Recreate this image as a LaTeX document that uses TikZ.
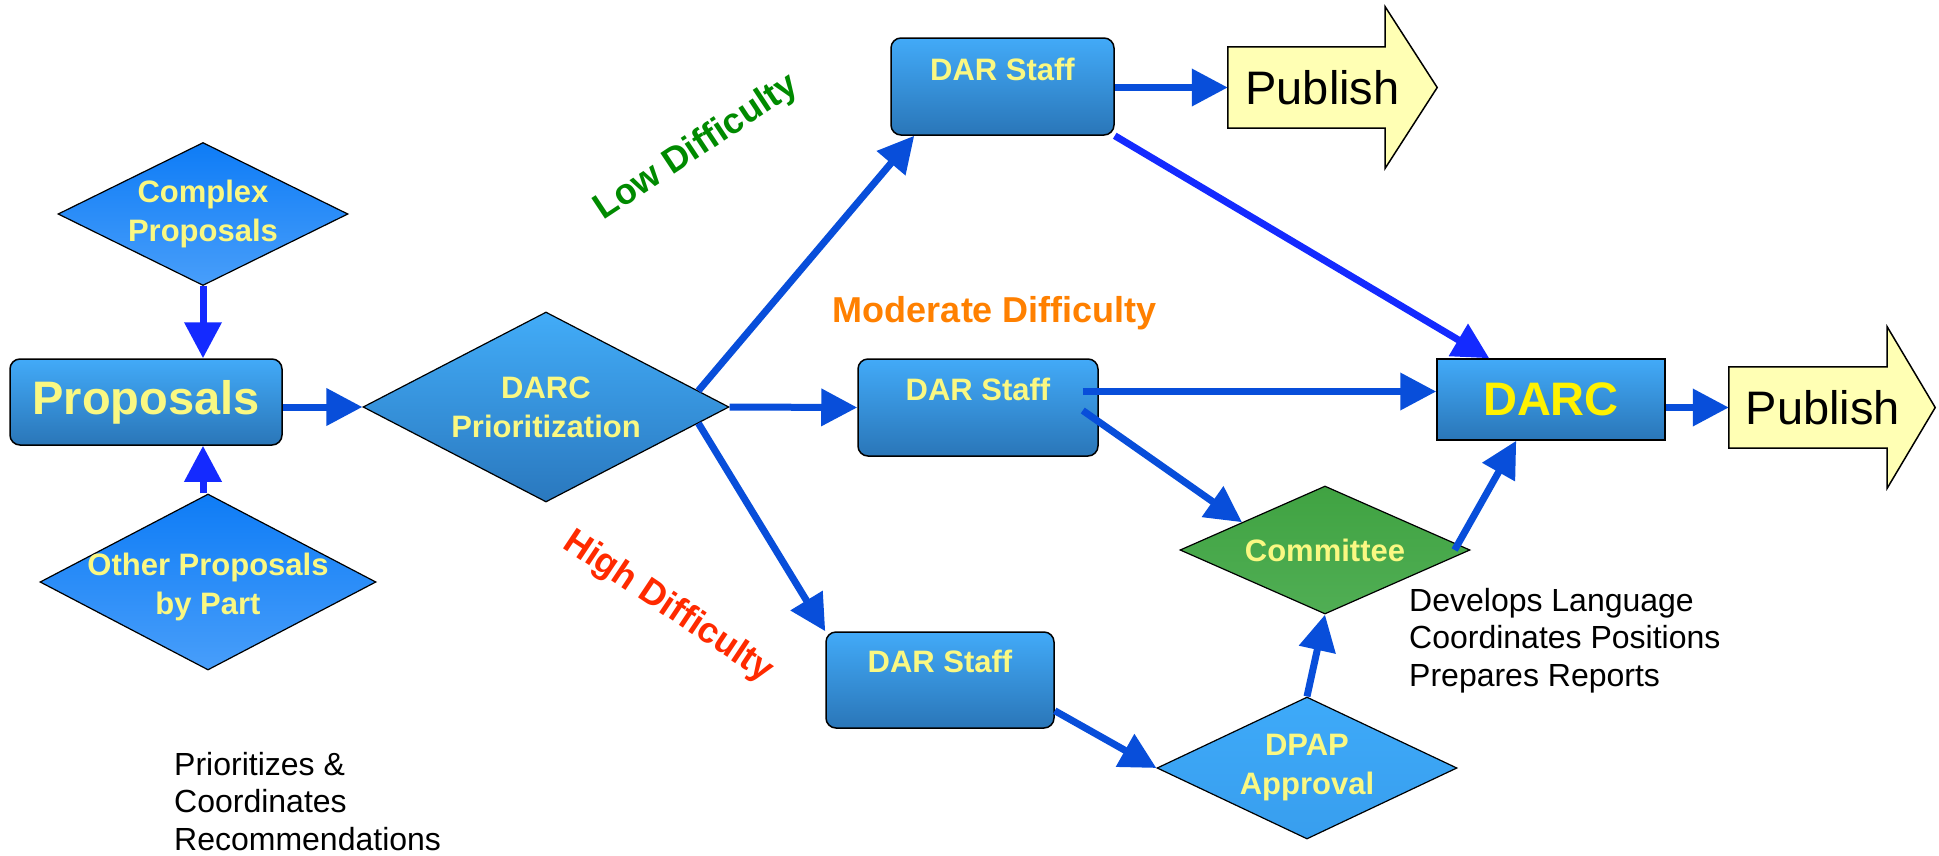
\documentclass[tikz,border=0pt]{standalone}
\usepackage{fontspec}
\setmainfont{Liberation Sans}
\usetikzlibrary{shapes.geometric,arrows.meta,calc}
\definecolor{boxtop}{RGB}{66,170,248}
\definecolor{boxbot}{RGB}{42,118,184}
\definecolor{dtop}{RGB}{14,124,246}
\definecolor{dbot}{RGB}{72,158,250}
\definecolor{ptop}{RGB}{66,172,248}
\definecolor{pbot}{RGB}{42,120,190}
\definecolor{aptop}{RGB}{62,170,249}
\definecolor{apbot}{RGB}{56,158,238}
\definecolor{ctop}{RGB}{64,163,66}
\definecolor{cbot}{RGB}{80,174,84}
\definecolor{ytext}{RGB}{250,248,130}
\definecolor{arrblue}{RGB}{8,78,218}
\definecolor{brblue}{RGB}{20,42,255}
\definecolor{pubfill}{RGB}{255,255,180}
\definecolor{lowgreen}{RGB}{0,138,0}
\definecolor{modorange}{RGB}{255,128,0}
\definecolor{highred}{RGB}{255,42,0}
\begin{document}
\begin{tikzpicture}[x=1pt,y=-1pt,
  stbox/.style={draw=black,line width=1.5pt,rounded corners=10pt,top color=boxtop,bottom color=boxbot,inner sep=0pt},
  sqbox/.style={draw=black,line width=1.5pt,top color=boxtop,bottom color=boxbot,inner sep=0pt},
  diam/.style={diamond,draw=black,line width=1.2pt,inner sep=0pt},
  dtext/.style={text=ytext,font=\bfseries\fontsize{31}{39}\selectfont,align=center},
  sttext/.style={text=ytext,font=\bfseries\fontsize{31}{37}\selectfont},
  arr/.style={draw=arrblue,line width=7pt,-{Triangle[length=36pt,width=36pt]}},
  barr/.style={draw=brblue,line width=7pt,-{Triangle[length=36pt,width=36pt]}},
  pubshape/.style={draw=black,line width=1.5pt,fill=pubfill,line join=miter},
  pubtext/.style={font=\fontsize{47}{50}\selectfont,text=black},
  note/.style={font=\fontsize{32}{37.5}\selectfont,align=left,text=black,anchor=north west,inner sep=0pt},
  difflabel/.style={font=\bfseries\fontsize{36}{40}\selectfont}
]
\useasboundingbox (0,0) rectangle (1939,855);

% left column
\node[diam,top color=dtop,bottom color=dbot,minimum width=290pt,minimum height=143pt,
      label={[dtext]center:Complex\\Proposals}] (cp) at (203,214) {};
\node[stbox,minimum width=272pt,minimum height=86pt,
      label={[text=ytext,font=\bfseries\fontsize{47}{50}\selectfont]center:Proposals}] (prop) at (146,402) {};
\node[diam,top color=dtop,bottom color=dbot,minimum width=336pt,minimum height=176pt,
      label={[dtext,yshift=-5pt]center:Other Proposals\\by Part}] (op) at (208,582) {};

% DARC prioritization
\node[diam,top color=ptop,bottom color=pbot,minimum width=366pt,minimum height=190pt,
      label={[dtext]center:DARC\\Prioritization}] (prio) at (546,407) {};

% DAR staff boxes
\node[stbox,minimum width=223pt,minimum height=97pt,
      label={[sttext,anchor=center,yshift=-32pt]north:DAR Staff}] (low) at (1002.5,86.5) {};
\node[stbox,minimum width=240pt,minimum height=97pt,
      label={[sttext,anchor=center,yshift=-31pt]north:DAR Staff}] (mod) at (978,407.5) {};
\node[stbox,minimum width=228pt,minimum height=96pt,
      label={[sttext,anchor=center,yshift=-30pt]north:DAR Staff}] (high) at (940,680) {};

% DARC box
\node[sqbox,minimum width=228pt,minimum height=81pt,
      label={[text=yellow,font=\bfseries\fontsize{47}{50}\selectfont]center:DARC}] (darc) at (1551,399.5) {};

% Committee and DPAP
\node[diam,top color=ctop,bottom color=cbot,minimum width=290pt,minimum height=128pt,
      label={[dtext]center:Committee}] (com) at (1325,550) {};
\node[diam,top color=aptop,bottom color=apbot,minimum width=300pt,minimum height=142pt,
      label={[dtext]center:DPAP\\Approval}] (dpap) at (1307,768) {};

% Publish arrows
\node[inner sep=0pt,minimum width=157pt,minimum height=81pt] (pub1) at (1306.5,87.5) {};
\draw[pubshape] (pub1.north west) -- (pub1.north east) -- ([yshift=40pt]pub1.north east)
  -- ($(pub1.east)+(52,0)$) -- ([yshift=-40pt]pub1.south east) -- (pub1.south east)
  -- (pub1.south west) -- cycle;
\node[pubtext] (pub1t) at ($(pub1.center)+(16,0)$) {Publish};

\node[inner sep=0pt,minimum width=158pt,minimum height=81pt] (pub2) at (1808,407.5) {};
\draw[pubshape] (pub2.north west) -- (pub2.north east) -- ([yshift=40pt]pub2.north east)
  -- ($(pub2.east)+(48,0)$) -- ([yshift=-40pt]pub2.south east) -- (pub2.south east)
  -- (pub2.south west) -- cycle;
\node[pubtext] (pub2t) at ($(pub2.center)+(15,0)$) {Publish};

% connectors
\draw[barr] (cp.south) -- (cp.south |- prop.north);
\draw[barr] (op.north -| cp.south) -- (cp.south |- prop.south);
\draw[arr] (prop.east |- prio.west) -- (prio.west);
\draw[arr] ($(prio.east)!0.17!(prio.north)$) -- ($(low.south west)+(24,0)$);
\draw[arr] (prio.east) -- (mod.west);
\draw[arr] ($(prio.east)!0.17!(prio.south)$) -- (high.north west);
\draw[arr] (low.east |- pub1.west) -- (pub1.west);
\draw[barr] (low.south east) -- ($(darc.north west)+(53,0)$);
\coordinate (ms1) at ($(mod.east)+(-16,-16)$);
\coordinate (ms2) at ($(mod.east)+(-16,3)$);
\draw[arr] (ms1) -- (ms1 -| darc.west);
\draw[arr] (ms2) -- ($(com.west)!0.43!(com.north)$);
\draw[arr] ($(com.east)+(-16,0)$) -- ($(darc.south west)+(80,0)$);
\draw[arr] (darc.east |- pub2.west) -- (pub2.west);
\draw[arr] ($(high.south east)+(0,-18)$) -- (dpap.west);
\draw[arr] (dpap.north) -- (com.south);

% difficulty labels
\node[difflabel,text=lowgreen,rotate=33.5] (lowlab) at (697,148) {Low Difficulty};
\node[difflabel,text=modorange] (modlab) at (995,313) {Moderate Difficulty};
\node[difflabel,text=highred,rotate=-33.7] (highlab) at (668,607) {High Difficulty};

% notes
\node[note] (comnote) at (1409,588) {Develops Language\\Coordinates Positions\\Prepares Reports};
\node[note] (prionote) at (174,752) {Prioritizes \&\\Coordinates\\Recommendations};
\end{tikzpicture}
\end{document}
